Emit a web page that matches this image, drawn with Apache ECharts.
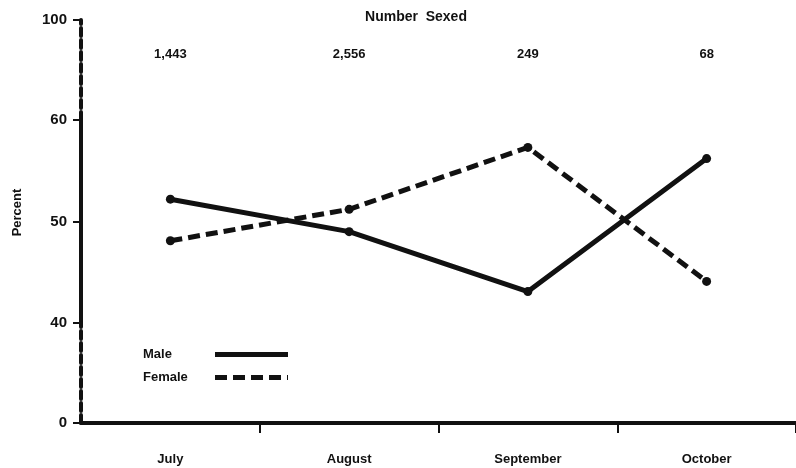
<!DOCTYPE html>
<html>
<head>
<meta charset="utf-8">
<script src="https://cdn.jsdelivr.net/npm/echarts@6/dist/echarts.min.js"></script>
<style>
  html, body { margin: 0; padding: 0; background: #fff; }
  #chart { width: 796px; height: 468px; }
</style>
</head>
<body>
<div id="chart"></div>
<script>
// 数据
var months = ['July', 'August', 'September', 'October'];
var numberSexed = ['1,443', '2,556', '249', '68'];
var male = [52.2, 49.0, 43.1, 56.2];
var female = [48.1, 51.2, 57.3, 44.1];

var ink = '#111';
var font = 'Liberation Sans';

var chart = echarts.init(document.getElementById('chart'));

function $extend(a, b) {
    for (var k in b) a[k] = b[k];
    return a;
}

// 断轴: 上下两段虚线, 中间实线
function yAxisPart(gridIndex, min, max, interval, lineType, opts) {
    return $extend({
        type: 'value',
        gridIndex: gridIndex,
        min: min,
        max: max,
        interval: interval,
        splitLine: { show: false },
        axisLine: { show: true, onZero: false, lineStyle: { color: ink, width: 4, type: lineType } },
        axisTick: { show: true, inside: false, length: 8, lineStyle: { color: ink, width: 2 } },
        axisLabel: { color: ink, fontFamily: font, fontWeight: 'bold', fontSize: 15, margin: 14 }
    }, opts || {});
}

var hiddenX = function (gridIndex) {
    return {
        type: 'category',
        gridIndex: gridIndex,
        data: months,
        boundaryGap: true,
        axisLine: { show: false },
        axisTick: { show: false },
        axisLabel: { show: false }
    };
};

var topX = hiddenX(0);
topX.position = 'top';
topX.data = numberSexed;
topX.axisLabel = { show: true, inside: true, margin: 28, color: ink, fontFamily: font, fontWeight: 'bold', fontSize: 13 };

var gridBase = { left: 81, right: 0, outerBoundsMode: 'none', containLabel: false };

chart.setOption({
    animation: false,
    title: {
        text: 'Number  Sexed',
        left: 411,
        top: 5,
        textAlign: 'center',
        textStyle: { color: ink, fontFamily: font, fontWeight: 'bold', fontSize: 14 }
    },
    legend: {
        orient: 'vertical',
        left: 138,
        top: 343,
        align: 'right',
        itemWidth: 73,
        itemHeight: 14,
        itemGap: 10,
        itemStyle: { opacity: 0 },
        lineStyle: { width: 5 },
        formatter: '{n|{name}}',
        textStyle: {
            color: ink,
            rich: { n: { width: 67, align: 'left', color: ink, fontFamily: font, fontWeight: 'bold', fontSize: 13 } }
        },
        data: ['Male', 'Female']
    },
    grid: [
        $extend({ top: 20, height: 100 }, gridBase),
        $extend({ top: 120, height: 203 }, gridBase),
        $extend({ top: 323, height: 100 }, gridBase)
    ],
    xAxis: [
        topX,
        hiddenX(1),
        {
            type: 'category',
            gridIndex: 2,
            data: months,
            boundaryGap: true,
            axisLine: { show: true, onZero: false, lineStyle: { color: ink, width: 4 } },
            axisTick: {
                show: true,
                length: 10,
                interval: function (i) { return i > 0 && i < months.length; },
                lineStyle: { color: ink, width: 2 }
            },
            axisLabel: { color: ink, fontFamily: font, fontWeight: 'bold', fontSize: 13, margin: 30 }
        }
    ],
    yAxis: [
        yAxisPart(0, 60, 100, 40, [8, 4], { axisLabel: { showMinLabel: false, color: ink, fontFamily: font, fontWeight: 'bold', fontSize: 15, margin: 14 } }),
        yAxisPart(1, 40, 60, 10, 'solid', {
            name: 'Percent',
            nameLocation: 'middle',
            nameGap: 57,
            nameRotate: 90,
            nameTextStyle: { color: ink, fontFamily: font, fontWeight: 'bold', fontSize: 13, padding: [0, 0, 0, 18] }
        }),
        yAxisPart(2, 0, 40, 40, [8, 4], { axisLabel: { showMaxLabel: false, color: ink, fontFamily: font, fontWeight: 'bold', fontSize: 15, margin: 14 } })
    ],
    series: [
        {
            name: 'Male',
            type: 'line',
            xAxisIndex: 1,
            yAxisIndex: 1,
            data: male,
            symbol: 'circle',
            symbolSize: 9,
            itemStyle: { color: ink },
            lineStyle: { color: ink, width: 5 }
        },
        {
            name: 'Female',
            type: 'line',
            xAxisIndex: 1,
            yAxisIndex: 1,
            data: female,
            symbol: 'circle',
            symbolSize: 9,
            itemStyle: { color: ink },
            lineStyle: { color: ink, width: 5, type: [12, 6] }
        }
    ]
});
</script>
</body>
</html>
